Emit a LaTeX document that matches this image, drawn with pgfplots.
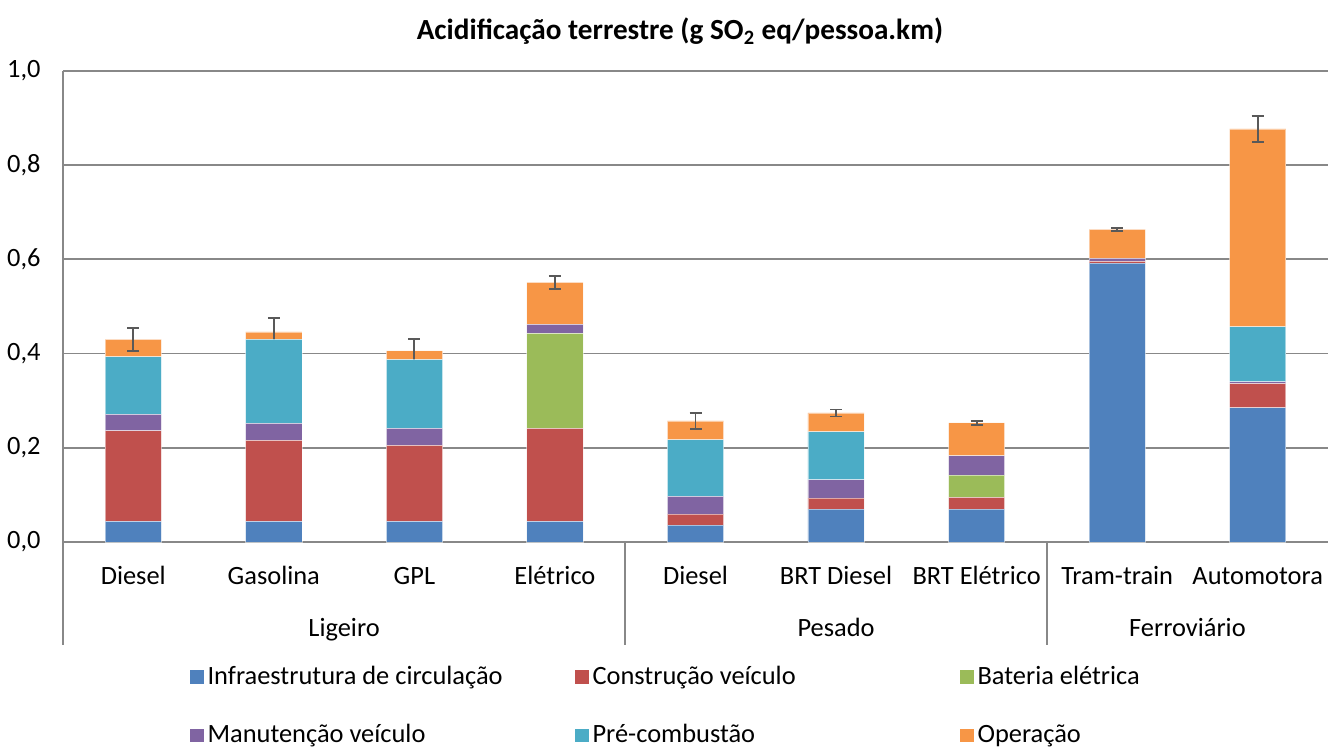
\documentclass[border=0pt]{standalone}
\usepackage{fontspec}
\setmainfont{Carlito}
\usepackage{pgfplots}
\pgfplotsset{compat=1.18}

\definecolor{cInfra}{HTML}{4F81BD}
\definecolor{cConstr}{HTML}{C0504D}
\definecolor{cBat}{HTML}{9BBB59}
\definecolor{cManut}{HTML}{8064A2}
\definecolor{cPre}{HTML}{4BACC6}
\definecolor{cOper}{HTML}{F79646}
\definecolor{axiscol}{HTML}{888888}
\definecolor{errcol}{HTML}{595959}

\begin{document}
\begin{tikzpicture}[font=\fontsize{13.2}{15.8}\selectfont]
\useasboundingbox (-31.5pt,-103.5pt) rectangle (632.5pt,271pt);
\begin{axis}[
  at={(0,0)}, anchor=south west,
  scale only axis, width=632.5pt, height=235.5pt,
  ybar stacked, bar width=0.4,
  clip=false,
  xmin=-0.5, xmax=8.5, ymin=0, ymax=1,
  axis x line*=bottom, axis y line*=left,
  axis line style={axiscol, line width=0.9pt},
  xtick={0,...,8},
  xticklabels={Diesel,Gasolina,GPL,Elétrico,Diesel,BRT Diesel,BRT Elétrico,Tram-train,Automotora},
  xticklabel style={anchor=base, yshift=-21pt},
  ytick={0,0.2,0.4,0.6,0.8,1.0},
  yticklabel style={xshift=-7.7pt},
  major tick length=0pt,
  ymajorgrids, grid style={axiscol, line width=0.9pt},
  /pgf/number format/.cd, use comma, fixed, fixed zerofill, precision=1, assume math mode=true,
  /pgfplots/.cd,
  every axis plot/.append style={draw=white, draw opacity=0.5, line width=0.4pt},
  title={Acidificação terrestre (g SO\textsubscript{2} eq/pessoa.km)},
  title style={font=\fontsize{14.6}{17.5}\selectfont\bfseries, at={(axis description cs:0.4877,1)}, anchor=base, yshift=9.5pt},
  legend columns=3,
  legend style={at={(axis description cs:0.095,-0.246)}, anchor=north west, draw=none, fill=none,
    row sep=14.5pt, font=\fontsize{13.2}{15.8}\selectfont},
  legend image code/.code={\path[#1, draw=none] (0pt,-3.3pt) rectangle (7pt,3.3pt);},
]
\addplot[fill=cInfra] coordinates {(0,0.044) (1,0.044) (2,0.044) (3,0.044) (4,0.036) (5,0.070) (6,0.070) (7,0.592) (8,0.285)};
\addlegendentry{\makebox[181.5pt][l]{Infraestrutura de circulação}}
\addplot[fill=cConstr] coordinates {(0,0.192) (1,0.172) (2,0.161) (3,0.197) (4,0.023) (5,0.023) (6,0.025) (7,0.004) (8,0.051)};
\addlegendentry{\makebox[181.5pt][l]{Construção veículo}}
\addplot[fill=cBat] coordinates {(0,0) (1,0) (2,0) (3,0.202) (4,0) (5,0) (6,0.047) (7,0) (8,0)};
\addlegendentry{\makebox[181.5pt][l]{Bateria elétrica}}
\addplot[fill=cManut] coordinates {(0,0.035) (1,0.036) (2,0.036) (3,0.019) (4,0.038) (5,0.039) (6,0.041) (7,0.006) (8,0.004)};
\addlegendentry{\makebox[181.5pt][l]{Manutenção veículo}}
\addplot[fill=cPre] coordinates {(0,0.122) (1,0.178) (2,0.146) (3,0) (4,0.120) (5,0.102) (6,0) (7,0) (8,0.117)};
\addlegendentry{\makebox[181.5pt][l]{Pré-combustão}}
\addplot[fill=cOper,
  error bars/.cd, y dir=both, y explicit,
  error bar style={errcol, line width=0.9pt, draw opacity=1},
  error mark options={rotate=90, mark size=3pt, errcol, line width=0.9pt, draw opacity=1}]
  coordinates {(0,0.037) +- (0,0.024) (1,0.016) +- (0,0.029) (2,0.019) +- (0,0.025)
    (3,0.089) +- (0,0.014) (4,0.040) +- (0,0.017) (5,0.040) +- (0,0.0075)
    (6,0.070) +- (0,0.004) (7,0.062) +- (0,0.0035) (8,0.420) +- (0,0.027)};
\addlegendentry{\makebox[181.5pt][l]{Operação}}
\draw[axiscol, line width=0.9pt] (axis cs:-0.5,0) -- ([yshift=-51.5pt]axis cs:-0.5,0);
\draw[axiscol, line width=0.9pt] (axis cs:3.5,0) -- ([yshift=-51.5pt]axis cs:3.5,0);
\draw[axiscol, line width=0.9pt] (axis cs:6.5,0) -- ([yshift=-51.5pt]axis cs:6.5,0);
\node[anchor=base] at (axis cs:1.5,0) [yshift=-47pt] {Ligeiro};
\node[anchor=base] at (axis cs:5,0) [yshift=-47pt] {Pesado};
\node[anchor=base] at (axis cs:7.5,0) [yshift=-47pt] {Ferroviário};
\end{axis}
\end{tikzpicture}
\end{document}
